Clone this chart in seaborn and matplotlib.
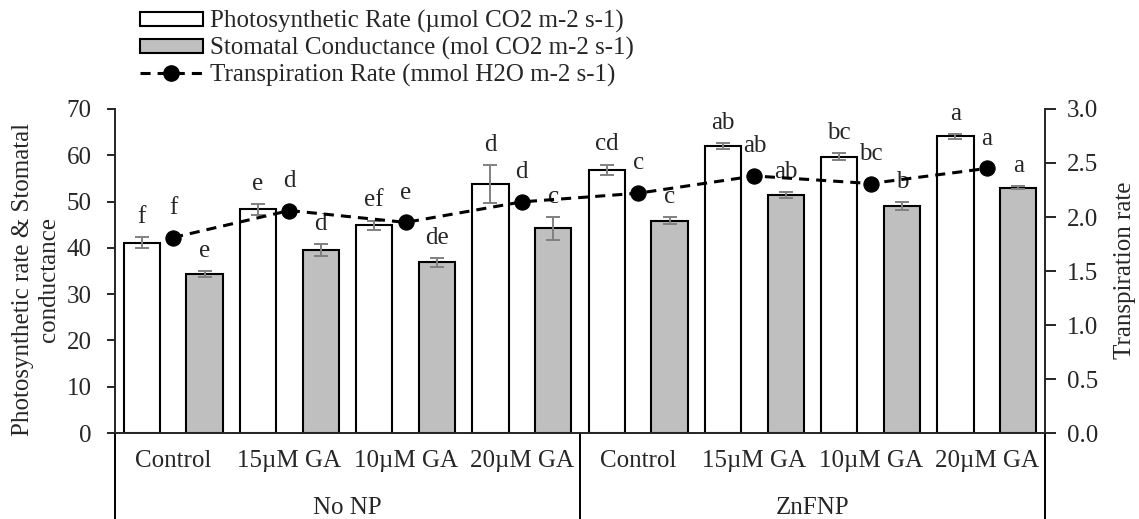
import numpy as np
import pandas as pd
import matplotlib
matplotlib.use("Agg")
import matplotlib.pyplot as plt
import matplotlib.transforms as mtransforms
from matplotlib.patches import Patch
from matplotlib.lines import Line2D
import seaborn as sns

# ---------------- data ----------------
groups = ["No NP"] * 4 + ["ZnFNP"] * 4
treatments = ["Control", "15µM GA", "10µM GA", "20µM GA"] * 2
photo = [41.1, 48.3, 44.9, 53.7, 56.9, 62.0, 59.7, 64.1]
photo_err = [1.2, 1.2, 1.0, 4.1, 1.1, 0.6, 0.8, 0.55]
stom = [34.3, 39.5, 36.9, 44.2, 45.9, 51.4, 49.0, 53.0]
stom_err = [0.65, 1.35, 0.95, 2.4, 0.75, 0.7, 0.85, 0.3]
trans = [1.81, 2.06, 1.95, 2.14, 2.22, 2.38, 2.31, 2.45]
photo_letters = ["f", "e", "ef", "d", "cd", "ab", "bc", "a"]
stom_letters = ["e", "d", "de", "c", "c", "ab", "b", "a"]
trans_letters = ["f", "d", "e", "d", "c", "ab", "bc", "a"]
group_names = ["No NP", "ZnFNP"]
series_names = ["Photosynthetic Rate (µmol CO2 m-2 s-1)",
                "Stomatal Conductance (mol CO2 m-2 s-1)",
                "Transpiration Rate (mmol H2O m-2 s-1)"]

keys = [f"{g}|{t}" for g, t in zip(groups, treatments)]
df = pd.DataFrame({
    "key": keys * 2,
    "value": photo + stom,
    "series": [series_names[0]] * 8 + [series_names[1]] * 8,
})

# ---------------- style ----------------
sns.set_style("ticks")
plt.rcParams["font.family"] = ["Liberation Serif", "DejaVu Serif"]
plt.rcParams["font.size"] = 18
plt.rcParams["axes.linewidth"] = 1.4

GRAY = "#BFBFBF"
fig = plt.figure(figsize=(11.39, 5.19), dpi=100)
fig.patch.set_facecolor("white")
ax = fig.add_axes([115 / 1139, 86 / 519, (1045 - 115) / 1139, (433 - 109) / 519])

sns.barplot(data=df, x="key", y="value", hue="series", order=keys,
            hue_order=series_names[:2],
            palette={series_names[0]: "white", series_names[1]: GRAY},
            edgecolor="black", linewidth=1.5, width=1.08, gap=0.426,
            errorbar=None, legend=False, ax=ax, zorder=2)

# error bars + letters for bars
for cont, vals, errs, letters in zip(ax.containers[:2], [photo, stom],
                                      [photo_err, stom_err],
                                      [photo_letters, stom_letters]):
    xs = [p.get_x() + p.get_width() / 2 for p in cont.patches]
    ax.errorbar(xs, vals, yerr=errs, fmt="none", ecolor="#808080",
                elinewidth=1.4, capsize=5, capthick=1.4, zorder=3)
    for x, v, e, lab in zip(xs, vals, errs, letters):
        ax.annotate(lab, (x, v + e), xytext=(0, 14.5), textcoords="offset points",
                    ha="center", va="center", fontsize=18, zorder=5)

ax.set_ylim(0, 70)
ax.set_xlim(-0.5, 7.5)
ax.set_yticks(np.arange(0, 71, 10))
ax.set_xticks(range(8))
ax.set_xticklabels(treatments)
ax.tick_params(axis="x", length=0, pad=12, labelsize=18)
ax.tick_params(axis="y", length=6, width=1.4, direction="out", pad=11, labelsize=18)
ax.set_xlabel("")
ax.set_ylabel("")
for s in ["top", "right"]:
    ax.spines[s].set_visible(False)

# secondary axis
ax2 = ax.twinx()
sns.lineplot(x=np.arange(8), y=trans, ax=ax2, color="black", linewidth=2.2,
             linestyle=(0, (3.3, 2.3)), marker="o", markersize=11,
             markeredgecolor="black", zorder=4)
for i, (t, lab) in enumerate(zip(trans, trans_letters)):
    ax2.annotate(lab, (i, t), xytext=(0, 21.5), textcoords="offset points",
                 ha="center", va="center", fontsize=18, zorder=5)
ax2.set_ylim(0, 3.0)
ax2.set_xlim(-0.5, 7.5)
ax2.set_yticks(np.arange(0, 3.01, 0.5))
ax2.set_yticklabels([f"{v:.1f}" for v in np.arange(0, 3.01, 0.5)])
ax2.tick_params(axis="y", length=8, width=1.4, direction="out", pad=8, labelsize=18)
ax2.set_xlabel("")
ax2.set_ylabel("")
for s in ["top", "left", "bottom"]:
    ax2.spines[s].set_visible(False)
ax2.spines["right"].set_linewidth(1.4)

# multi-level category axis
trans_blend = mtransforms.blended_transform_factory(ax.transData, ax.transAxes)
for xv in [-0.5, 3.5, 7.5]:
    ax.plot([xv, xv], [0, -0.4], transform=trans_blend, color="black",
            lw=1.4, clip_on=False)
for gi, g in enumerate(group_names):
    ax.text(gi * 4 + 1.5, -0.2315, g, transform=trans_blend, ha="center",
            va="center", fontsize=18)

# axis titles
fig.text(36 / 1139, 0.462, "Photosynthetic rate & Stomatal\nconductance",
         rotation=90, ha="center", va="center", fontsize=18,
         multialignment="center", linespacing=1.2)
fig.text(1125 / 1139, 0.48, "Transpiration rate", rotation=90,
         ha="center", va="center", fontsize=18)

# legend
handles = [Patch(facecolor="white", edgecolor="black", linewidth=1.5),
           Patch(facecolor=GRAY, edgecolor="black", linewidth=1.5),
           Line2D([0], [0], color="black", lw=2.2, linestyle=(0, (3.3, 2.3)),
                  marker="o", markersize=11)]
fig.legend(handles, series_names, loc="upper left",
           bbox_to_anchor=(140 / 1139, 1 - 10 / 519), frameon=False,
           borderpad=0, borderaxespad=0, handlelength=2.5, handleheight=0.5,
           handletextpad=0.3, labelspacing=0.15, fontsize=18)

fig.savefig("out.png", dpi=100, facecolor="white")
